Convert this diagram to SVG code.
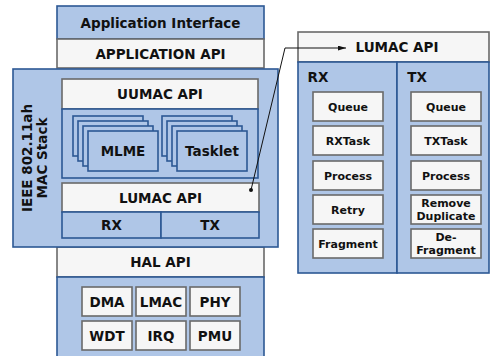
<svg xmlns="http://www.w3.org/2000/svg" width="491" height="356" viewBox="0 0 491 356">
<defs>
<style>
.b{fill:#afc6e7;stroke:#2c5894;stroke-width:1.6}
.w{fill:#f6f6f6;stroke:#6a6a6a;stroke-width:1.6}
.t{font-family:"DejaVu Sans",sans-serif;font-weight:bold;font-size:13.5px;fill:#111;text-anchor:middle}
.s{font-family:"DejaVu Sans",sans-serif;font-weight:bold;font-size:11px;fill:#111;text-anchor:middle}
.c{fill:none;stroke:#111;stroke-width:1}
</style>
<marker id="ah" viewBox="0 0 10 6" refX="10" refY="3" markerWidth="8" markerHeight="5" orient="auto" markerUnits="userSpaceOnUse">
<path d="M0,0 L10,3 L0,6 z" fill="#111"/>
</marker>
<g id="stk">
<rect class="b" x="0" y="0" width="70" height="40"/>
<rect class="b" x="5" y="5" width="70" height="40"/>
<rect class="b" x="10" y="10" width="70" height="40"/>
</g>
</defs>

<g id="app-interface"><rect class="b" x="57" y="6" width="207" height="33"/><text class="t" x="160.5" y="27.5">Application Interface</text></g>
<g id="application-api"><rect class="w" x="57" y="39" width="207" height="29"/><text class="t" x="160.5" y="58.5">APPLICATION API</text></g>

<g id="hal-api"><rect class="w" x="57" y="247" width="207" height="30"/><text class="t" x="160.5" y="267">HAL API</text></g>
<g id="hal"><rect class="b" x="57" y="277" width="207" height="82"/></g>
<g id="dma"><rect class="w" x="82" y="287" width="50" height="29"/><text class="t" x="107" y="306.5">DMA</text></g>
<g id="lmac"><rect class="w" x="136" y="287" width="50" height="29"/><text class="t" x="161" y="306.5">LMAC</text></g>
<g id="phy"><rect class="w" x="190" y="287" width="50" height="29"/><text class="t" x="215" y="306.5">PHY</text></g>
<g id="wdt"><rect class="w" x="82" y="321" width="50" height="29"/><text class="t" x="107" y="340.5">WDT</text></g>
<g id="irq"><rect class="w" x="136" y="321" width="50" height="29"/><text class="t" x="161" y="340.5">IRQ</text></g>
<g id="pmu"><rect class="w" x="190" y="321" width="50" height="29"/><text class="t" x="215" y="340.5">PMU</text></g>

<g id="mac-stack">
<rect class="b" x="13" y="69" width="265" height="178"/>
<text class="t" transform="translate(32,158) rotate(-90)">IEEE 802.11ah</text>
<text class="t" transform="translate(47,158) rotate(-90)">MAC Stack</text>
</g>
<g id="uumac-api"><rect class="w" x="62" y="79" width="196" height="30"/><text class="t" x="160" y="99">UUMAC API</text></g>
<g id="uumac"><rect class="b" x="62" y="109" width="196" height="69"/></g>
<g id="mlme"><use href="#stk" x="73" y="116"/><rect class="b" x="88" y="131" width="70" height="40"/><text class="t" x="123" y="156">MLME</text></g>
<g id="tasklet"><use href="#stk" x="162" y="116"/><rect class="b" x="177" y="131" width="70" height="40"/><text class="t" x="212" y="156">Tasklet</text></g>
<g id="lumac-api"><rect class="w" x="62" y="183" width="197" height="29"/><text class="t" x="160.5" y="202.5">LUMAC API</text></g>
<g id="rx"><rect class="b" x="62" y="212" width="99" height="26"/><text class="t" x="111.5" y="230">RX</text></g>
<g id="tx"><rect class="b" x="161" y="212" width="98" height="26"/><text class="t" x="210" y="230">TX</text></g>

<g id="lumac-detail">
<rect class="w" x="298" y="32" width="191" height="30"/>
<text class="t" x="397" y="52">LUMAC API</text>
</g>
<g id="rx-detail">
<rect class="b" x="298" y="62" width="99" height="211"/>
<text class="t" x="318" y="82">RX</text>
</g>
<g id="tx-detail">
<rect class="b" x="397" y="62" width="92" height="211"/>
<text class="t" x="417" y="82">TX</text>
</g>
<g id="rx-queue"><rect class="w" x="313" y="92" width="70" height="29"/><text class="s" x="348" y="110.5">Queue</text></g>
<g id="rx-task"><rect class="w" x="313" y="126" width="70" height="29"/><text class="s" x="348" y="144.5">RXTask</text></g>
<g id="rx-process"><rect class="w" x="313" y="161" width="70" height="29"/><text class="s" x="348" y="179.5">Process</text></g>
<g id="rx-retry"><rect class="w" x="313" y="195" width="70" height="29"/><text class="s" x="348" y="213.5">Retry</text></g>
<g id="rx-fragment"><rect class="w" x="313" y="229" width="70" height="29"/><text class="s" x="348" y="247.5">Fragment</text></g>
<g id="tx-queue"><rect class="w" x="411" y="92" width="70" height="29"/><text class="s" x="446" y="110.5">Queue</text></g>
<g id="tx-task"><rect class="w" x="411" y="126" width="70" height="29"/><text class="s" x="446" y="144.5">TXTask</text></g>
<g id="tx-process"><rect class="w" x="411" y="161" width="70" height="29"/><text class="s" x="446" y="179.5">Process</text></g>
<g id="tx-remove"><rect class="w" x="411" y="195" width="70" height="29"/><text class="s" x="446" y="207">Remove</text><text class="s" x="446" y="220">Duplicate</text></g>
<g id="tx-defrag"><rect class="w" x="411" y="229" width="70" height="29"/><text class="s" x="446" y="241">De-</text><text class="s" x="446" y="254">Fragment</text></g>

<g id="connectors">
<circle cx="251" cy="190" r="2" fill="#111"/>
<path class="c" d="M251,190 L285,48 L346,48" marker-end="url(#ah)"/>
</g>
</svg>
